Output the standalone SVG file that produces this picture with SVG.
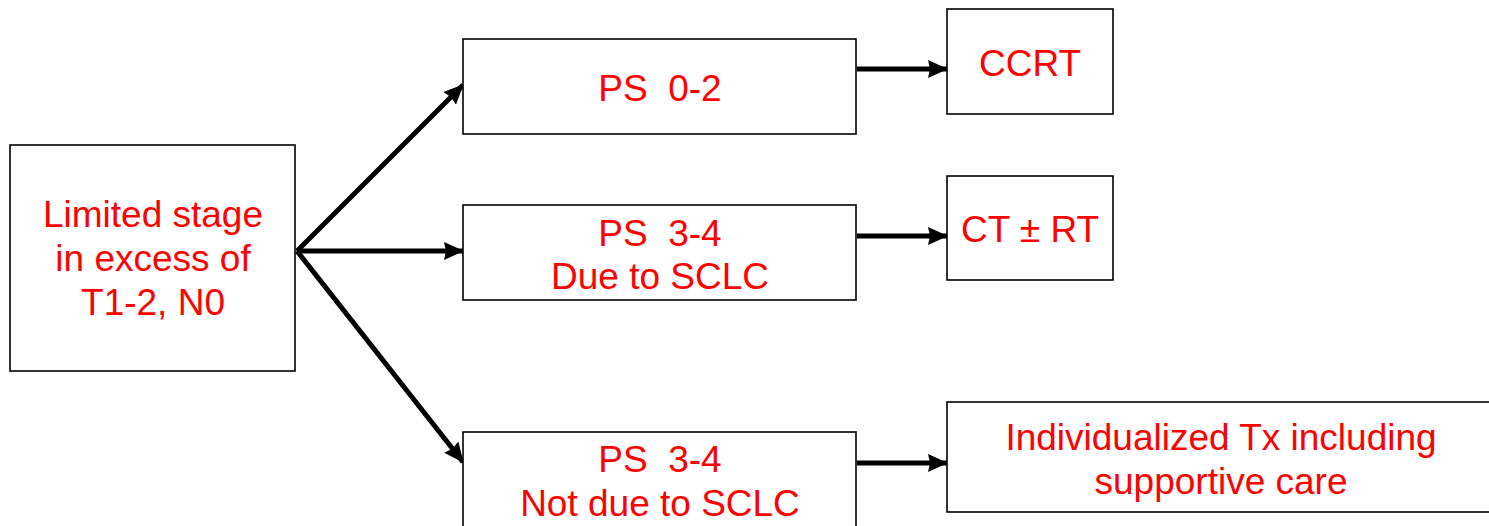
<svg xmlns="http://www.w3.org/2000/svg" width="1489" height="526" viewBox="0 0 1489 526">
<style>
.box{fill:#fff;stroke:#000;stroke-width:1.6}
.t{font-family:"Liberation Sans",Arial,sans-serif;font-size:37px;fill:#ff0000;text-anchor:middle;white-space:pre}
.c{stroke:#000;stroke-width:5;fill:none;marker-end:url(#ah)}
</style>
<defs>
<marker id="ah" markerUnits="userSpaceOnUse" markerWidth="20" markerHeight="18" refX="19" refY="9" orient="auto" viewBox="0 0 20 18">
<polygon points="0,0 20,9 0,18 2,9" fill="#000"/>
</marker>
</defs>
<rect width="1489" height="526" fill="#fff"/>
<g id="connectors">
<line class="c" x1="297" y1="251" x2="463" y2="85"/>
<line class="c" x1="297" y1="251" x2="463" y2="251"/>
<line class="c" x1="297" y1="251" x2="463" y2="462"/>
<line class="c" x1="857" y1="69" x2="947" y2="69"/>
<line class="c" x1="857" y1="236" x2="947" y2="236"/>
<line class="c" x1="857" y1="463" x2="947" y2="463"/>
</g>
<g id="n-limited">
<rect class="box" x="10" y="145" width="285" height="226"/>
<text class="t" x="153" y="227">Limited stage</text>
<text class="t" x="153" y="271">in excess of</text>
<text class="t" x="153" y="315">T1-2, N0</text>
</g>
<g id="n-ps02">
<rect class="box" x="463" y="39" width="393" height="95"/>
<text class="t" x="660" y="101">PS  0-2</text>
</g>
<g id="n-ps34due">
<rect class="box" x="463" y="205" width="393" height="95"/>
<text class="t" x="660" y="246">PS  3-4</text>
<text class="t" x="660" y="289">Due to SCLC</text>
</g>
<g id="n-ps34not">
<rect class="box" x="463" y="432" width="393" height="110"/>
<text class="t" x="660" y="472">PS  3-4</text>
<text class="t" x="660" y="516">Not due to SCLC</text>
</g>
<g id="n-ccrt">
<rect class="box" x="947" y="9" width="166" height="105"/>
<text class="t" x="1030" y="76">CCRT</text>
</g>
<g id="n-ctrt">
<rect class="box" x="947" y="176" width="166" height="104"/>
<text class="t" x="1030" y="242">CT ± RT</text>
</g>
<g id="n-indiv">
<rect class="box" x="947" y="402" width="550" height="110"/>
<text class="t" x="1221" y="450">Individualized Tx including</text>
<text class="t" x="1221" y="494">supportive care</text>
</g>
</svg>
